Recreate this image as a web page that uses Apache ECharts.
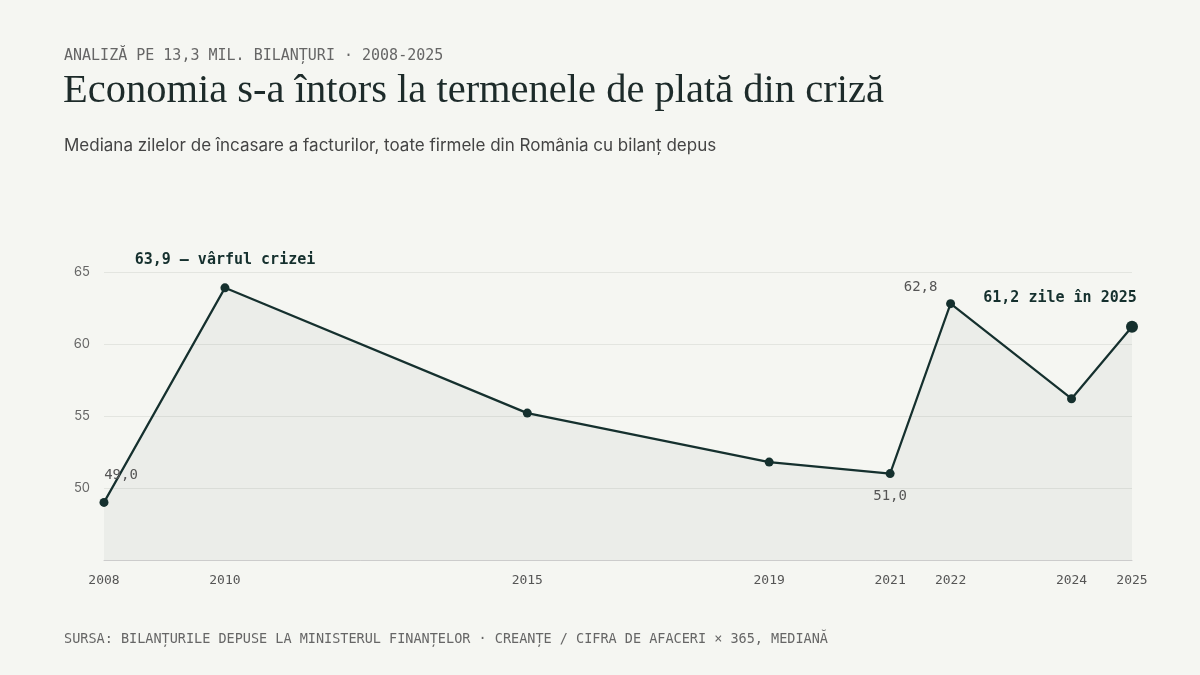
<!DOCTYPE html>
<html>
<head>
<meta charset="utf-8">
<script src="https://cdn.jsdelivr.net/npm/echarts@6/dist/echarts.min.js"></script>
<style>
  html, body { margin: 0; padding: 0; background: #f5f6f2; }
  #chart { width: 1200px; height: 675px; }
</style>
</head>
<body>
<div id="chart"></div>
<script>
(function() {
  var years = [2008, 2010, 2015, 2019, 2021, 2022, 2024, 2025];
  var days = [49.0, 63.9, 55.2, 51.8, 51.0, 62.8, 56.2, 61.2];
  var yTicks = [50, 55, 60, 65];

  var ink = "#15302e";
  var mono = "'DejaVu Sans Mono', monospace";

  // labels for a few points only (dx, dy from the point centre)
  var labels = {
    2008: { text: "49,0", bold: false, dx: 17, dy: -20 },
    2010: { text: "63,9 — vârful crizei", bold: true, dx: 0, dy: -20 },
    2021: { text: "51,0", bold: false, dx: 0, dy: 30 },
    2022: { text: "62,8", bold: false, dx: -30, dy: -9 },
    2025: { text: "61,2 zile în 2025", bold: true, dx: -72, dy: -21 }
  };

  var seriesData = years.map(function(y, i) {
    var item = { value: [y, days[i]] };
    var l = labels[y];
    if (l) {
      var s = y === 2025 ? 12 : 9;
      item.label = {
        show: true,
        position: [s / 2 + l.dx, s / 2 + l.dy],
        align: "center",
        verticalAlign: "bottom",
        formatter: l.text,
        fontFamily: mono,
        fontSize: l.bold ? 15 : 14,
        fontWeight: l.bold ? "bold" : "normal",
        color: l.bold ? ink : "#555"
      };
    }
    return item;
  });
  seriesData[seriesData.length - 1].symbolSize = 12;

  var myChart = echarts.init(document.getElementById("chart"));
  var option = {
    backgroundColor: "#f5f6f2",
    title: [
      {
        text: "ANALIZĂ PE 13,3 MIL. BILANȚURI · 2008-2025",
        left: 59, top: 44,
        textStyle: { fontFamily: mono, fontSize: 15, color: "#666", fontWeight: "normal" }
      },
      {
        text: "Economia s-a întors la termenele de plată din criză",
        left: 58, top: 66,
        textStyle: { fontFamily: "'Liberation Serif', 'DejaVu Serif', serif", fontSize: 40.5, color: "#1d2b2a", fontWeight: "normal" }
      },
      {
        text: "Mediana zilelor de încasare a facturilor, toate firmele din România cu bilanț depus",
        left: 59, top: 132,
        textStyle: { fontFamily: "Inter, 'Noto Sans', sans-serif", fontSize: 17, color: "#444", fontWeight: "normal" }
      },
      {
        text: "SURSA: BILANȚURILE DEPUSE LA MINISTERUL FINANȚELOR · CREANȚE / CIFRA DE AFACERI × 365, MEDIANĂ",
        left: 59, top: 627,
        textStyle: { fontFamily: mono, fontSize: 13.5, color: "#666", fontWeight: "normal" }
      }
    ],
    grid: { left: 104, right: 68, top: 272, bottom: 115 },
    xAxis: {
      type: "value",
      min: 2008,
      max: 2025,
      interval: 1,
      axisLine: { show: true, lineStyle: { color: "#ccc" } },
      axisTick: { show: false },
      splitLine: { show: false },
      axisLabel: {
        margin: 14,
        fontFamily: mono,
        fontSize: 13,
        color: "#555",
        showMinLabel: true,
        showMaxLabel: true,
        formatter: function(v) { return years.indexOf(v) >= 0 ? String(v) : ""; }
      }
    },
    yAxis: {
      type: "value",
      min: 45,
      max: 65,
      interval: 5,
      axisLine: { show: false },
      axisTick: { show: false },
      splitLine: { lineStyle: { color: "#e3e5e0" } },
      axisLabel: {
        margin: 14,
        fontFamily: "Inter, 'Noto Sans', sans-serif",
        fontSize: 13,
        color: "#666",
        formatter: function(v) { return yTicks.indexOf(v) >= 0 ? String(v) : ""; }
      }
    },
    series: [
      {
        type: "line",
        data: seriesData,
        symbol: "circle",
        symbolSize: 9,
        itemStyle: { color: ink },
        lineStyle: { color: ink, width: 2.2 },
        areaStyle: { color: "rgba(20, 48, 46, 0.06)" },
        label: { show: false },
        labelLayout: { hideOverlap: false }
      }
    ]
  };

  myChart.setOption(option);
  window.addEventListener("resize", function() {
    myChart.resize();
  });
})();
</script>
</body>
</html>
